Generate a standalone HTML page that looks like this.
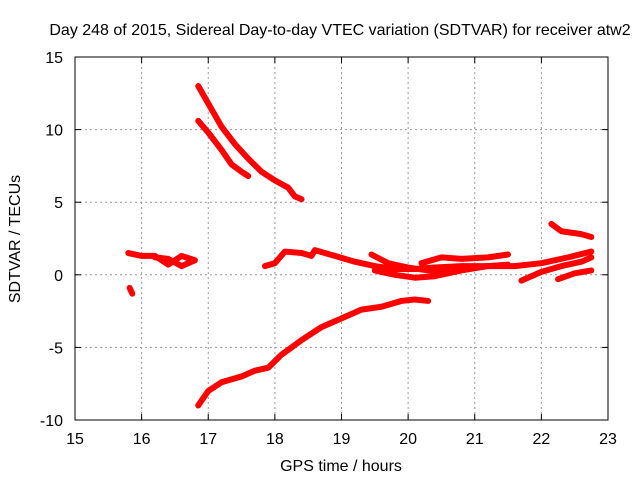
<!DOCTYPE html>
<html><head><meta charset="utf-8"><style>
body{margin:0;background:#fff}
svg text{font-family:"Liberation Sans",sans-serif;font-size:16px;fill:#000}
</style></head><body>
<svg id="chart" width="640" height="480">
<rect width="640" height="480" fill="#fff"/>
<text x="340" y="35" text-anchor="middle">Day 248 of 2015, Sidereal Day-to-day VTEC variation (SDTVAR) for receiver atw2</text>
<text x="341" y="471" text-anchor="middle">GPS time / hours</text>
<text transform="translate(20,239) rotate(-90)" text-anchor="middle">SDTVAR / TECUs</text>
<g id="grid"></g><g id="series"></g>
<rect x="75" y="57" width="533" height="363" fill="none" stroke="#000" stroke-width="1"/>
</svg>
<script>
const xTicks=[15,16,17,18,19,20,21,22,23];
const yTicks=[-10,-5,0,5,10,15];
const seriesA=[[16.85,13],[17.0,11.8],[17.2,10.2],[17.4,9.0],[17.6,8.0],[17.8,7.1],[18.0,6.5],[18.2,6.0],[18.3,5.4],[18.4,5.2]];
const seriesB=[[16.85,10.6],[17.0,9.8],[17.2,8.6],[17.35,7.6],[17.5,7.1],[17.6,6.8]];
const seriesC=[[16.85,-9.0],[17.0,-8.0],[17.2,-7.4],[17.5,-7.0],[17.7,-6.6],[17.9,-6.4],[18.1,-5.5],[18.4,-4.5],[18.7,-3.6],[19.0,-3.0],[19.3,-2.4],[19.6,-2.2],[19.9,-1.8],[20.1,-1.7],[20.3,-1.8]];
const seriesD=[[15.8,1.5],[16.0,1.3],[16.2,1.3],[16.4,0.7],[16.6,1.3],[16.8,1.0],[16.6,0.6],[16.4,1.1],[16.2,1.2]];
const seriesE=[[15.82,-0.9],[15.86,-1.3]];
const seriesF=[[17.85,0.6],[18.0,0.8],[18.15,1.6],[18.4,1.5],[18.55,1.3],[18.6,1.7],[18.9,1.3],[19.2,0.9],[19.5,0.6],[19.8,0.4],[20.1,0.4],[20.4,0.5],[20.8,0.6],[21.2,0.6],[21.6,0.6],[22.0,0.8],[22.4,1.2],[22.75,1.6]];
const seriesG=[[19.45,1.4],[19.7,0.8],[20.0,0.5],[20.3,0.3],[20.6,0.2]];
const seriesH=[[19.5,0.3],[19.8,0.0],[20.1,-0.2],[20.4,-0.1],[20.8,0.3],[21.2,0.6],[21.5,0.7]];
const seriesI=[[20.2,0.8],[20.5,1.2],[20.8,1.1],[21.2,1.2],[21.5,1.4]];
const seriesJ=[[22.15,3.5],[22.3,3.0],[22.6,2.8],[22.75,2.6]];
const seriesK=[[21.7,-0.4],[22.0,0.2],[22.3,0.6],[22.6,0.9],[22.75,1.2]];
const seriesL=[[22.25,-0.3],[22.5,0.1],[22.75,0.3]];
const allSeries=[seriesA,seriesB,seriesC,seriesD,seriesE,seriesF,seriesG,seriesH,seriesI,seriesJ,seriesK,seriesL];
const X0=75,X1=608,Y0=420,Y1=57;
function sx(h){return X0+(h-15)/8*(X1-X0);}
function sy(v){return Y0-(v+10)/25*(Y0-Y1);}
const NS="http://www.w3.org/2000/svg";
const grid=document.getElementById('grid'),ser=document.getElementById('series');
function mk(tag,at,par){const e=document.createElementNS(NS,tag);for(const k in at)e.setAttribute(k,at[k]);par.appendChild(e);return e;}
xTicks.forEach(t=>{
 const x=sx(t);
 if(t>15&&t<23){const g=mk('line',{x1:x,x2:x,y1:Y1,y2:Y0,stroke:'#999','stroke-dasharray':'2,3'},grid);
 
 }
 mk('line',{x1:x,x2:x,y1:Y0,y2:Y0-6,stroke:'#000'},grid);
 mk('line',{x1:x,x2:x,y1:Y1,y2:Y1+6,stroke:'#000'},grid);
 const tx=mk('text',{x:x,y:Y0+24,'text-anchor':'middle'},grid);tx.textContent=t;
 
 
});
yTicks.forEach(t=>{
 const y=sy(t);
 if(t>-10&&t<15){const g=mk('line',{x1:X0,x2:X1,y1:y,y2:y,stroke:'#999','stroke-dasharray':'2,3'},grid);
 
 }
 mk('line',{x1:X0,x2:X0+6,y1:y,y2:y,stroke:'#000'},grid);
 mk('line',{x1:X1,x2:X1-6,y1:y,y2:y,stroke:'#000'},grid);
 const tx=mk('text',{x:X0-12,y:y+6,'text-anchor':'end'},grid);tx.textContent=t;
 
 
});
allSeries.forEach((s,i)=>{
 const p=mk('polyline',{points:s.map(d=>sx(d[0])+','+sy(d[1])).join(' '),fill:'none',stroke:'#f00','stroke-width':6,'stroke-linejoin':'round','stroke-linecap':'round'},ser);
 
 
});
</script>
</body></html>
